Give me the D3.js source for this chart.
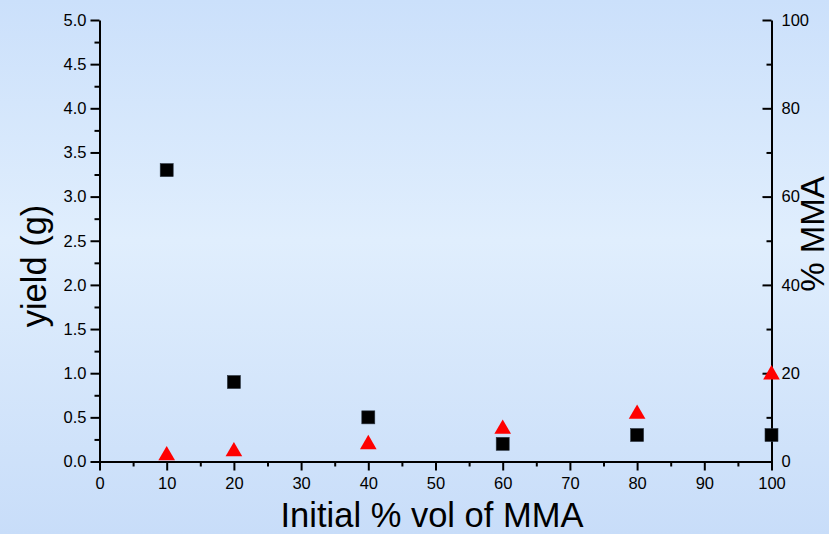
<!DOCTYPE html>
<html><head><meta charset="utf-8">
<script src="https://cdn.jsdelivr.net/npm/d3@7"></script>
<style>html,body{margin:0;padding:0;overflow:hidden;}svg{display:block;font-family:"Liberation Sans",Arial,sans-serif;}</style>
</head><body>
<script>
const xValues = [10, 20, 40, 60, 80, 100];
const yieldValues = [3.3, 0.9, 0.5, 0.2, 0.3, 0.3];
const mmaValues = [1.7, 2.6, 4.2, 7.7, 11.1, 20];
const xTicks = [0,10,20,30,40,50,60,70,80,90,100];
const yTicks = [0,0.5,1,1.5,2,2.5,3,3.5,4,4.5,5];
const y2Ticks = [0,20,40,60,80,100];

const W = 829, H = 534;
const m = {left: 99.5, right: 771.5, top: 20, bottom: 461.5};
const svg = d3.select("body").append("svg").attr("width", W).attr("height", H);
const defs = svg.append("defs");
const g = defs.append("linearGradient").attr("id","bg").attr("x1",0).attr("y1",0).attr("x2",0).attr("y2",1);
g.append("stop").attr("offset","0%").attr("stop-color","#cbe0fb");
g.append("stop").attr("offset","45%").attr("stop-color","#e0eefd");
g.append("stop").attr("offset","100%").attr("stop-color","#c8ddf9");
svg.append("rect").attr("width",W).attr("height",H).attr("fill","url(#bg)");

const x = d3.scaleLinear().domain([0,100]).range([m.left, m.right]);
const y = d3.scaleLinear().domain([0,5]).range([m.bottom, m.top]);
const y2 = d3.scaleLinear().domain([0,100]).range([m.bottom, m.top]);

function styleAxis(sel){
  sel.attr("font-size", null).attr("font-family", null);
  sel.selectAll("path.domain").attr("stroke","#000").attr("stroke-width",2);
  sel.selectAll(".tick line").attr("stroke","#000").attr("stroke-width",2);
  sel.selectAll(".tick text").attr("fill","#000").style("font-size","16.5px").style("font-family","'Liberation Sans', Arial, sans-serif");
}
function minor(axisFn, scale, vals, pos, len){
  return svg.append("g").attr("transform",pos).call(axisFn(scale).tickValues(vals).tickSize(len).tickFormat(""))
    .call(s=>{s.select("path.domain").remove(); s.selectAll(".tick line").attr("stroke","#000").attr("stroke-width",2);});
}
// minor ticks
minor(d3.axisBottom, x, d3.range(5,100,10), `translate(0,${m.bottom})`, 5);
minor(d3.axisLeft, y, d3.range(0.25,5,0.5), `translate(${m.left},0)`, 5);
minor(d3.axisRight, y2, d3.range(10,100,20), `translate(${m.right},0)`, -5);

const gx = svg.append("g").attr("transform",`translate(0,${m.bottom})`)
  .call(d3.axisBottom(x).tickValues(xTicks).tickSize(9).tickSizeOuter(0).tickPadding(7));
styleAxis(gx);
const gy = svg.append("g").attr("transform",`translate(${m.left},0)`)
  .call(d3.axisLeft(y).tickValues(yTicks).tickSize(9).tickSizeOuter(0).tickPadding(4).tickFormat(d3.format(".1f")));
styleAxis(gy);
const gy2 = svg.append("g").attr("transform",`translate(${m.right},0)`)
  .call(d3.axisRight(y2).tickValues(y2Ticks).tickSize(-9).tickSizeOuter(0).tickPadding(10));
styleAxis(gy2);

// data
const pts = xValues.map((v,i)=>({x:v, y:yieldValues[i], p:mmaValues[i]}));
svg.append("g").selectAll("rect").data(pts).join("rect")
  .attr("x", d=>x(d.x)-6.5).attr("y", d=>y(d.y)-6.5).attr("width",13).attr("height",13)
  .attr("fill","#000").attr("stroke","#2a3440").attr("stroke-width",0.6);
const tri = d3.symbol().type(d3.symbolTriangle).size(120);
svg.append("g").selectAll("path").data(pts).join("path")
  .attr("transform", d=>`translate(${x(d.x)},${y2(d.p)+1.5})`).attr("d", tri).attr("fill","#ff0000");

// titles
svg.append("text").attr("x",432).attr("y",527).attr("text-anchor","middle")
  .attr("font-size","34.5px").attr("fill","#000").text("Initial % vol of MMA");
svg.append("text").attr("transform",`translate(46,${266}) rotate(-90)`).attr("text-anchor","middle")
  .attr("font-size","34.5px").attr("fill","#000").text("yield (g)");
svg.append("text").attr("transform",`translate(800,${234}) rotate(-90)`).attr("text-anchor","middle")
  .attr("dominant-baseline","hanging").attr("font-size","33px").attr("fill","#000").text("% MMA");
</script>
</body></html>
